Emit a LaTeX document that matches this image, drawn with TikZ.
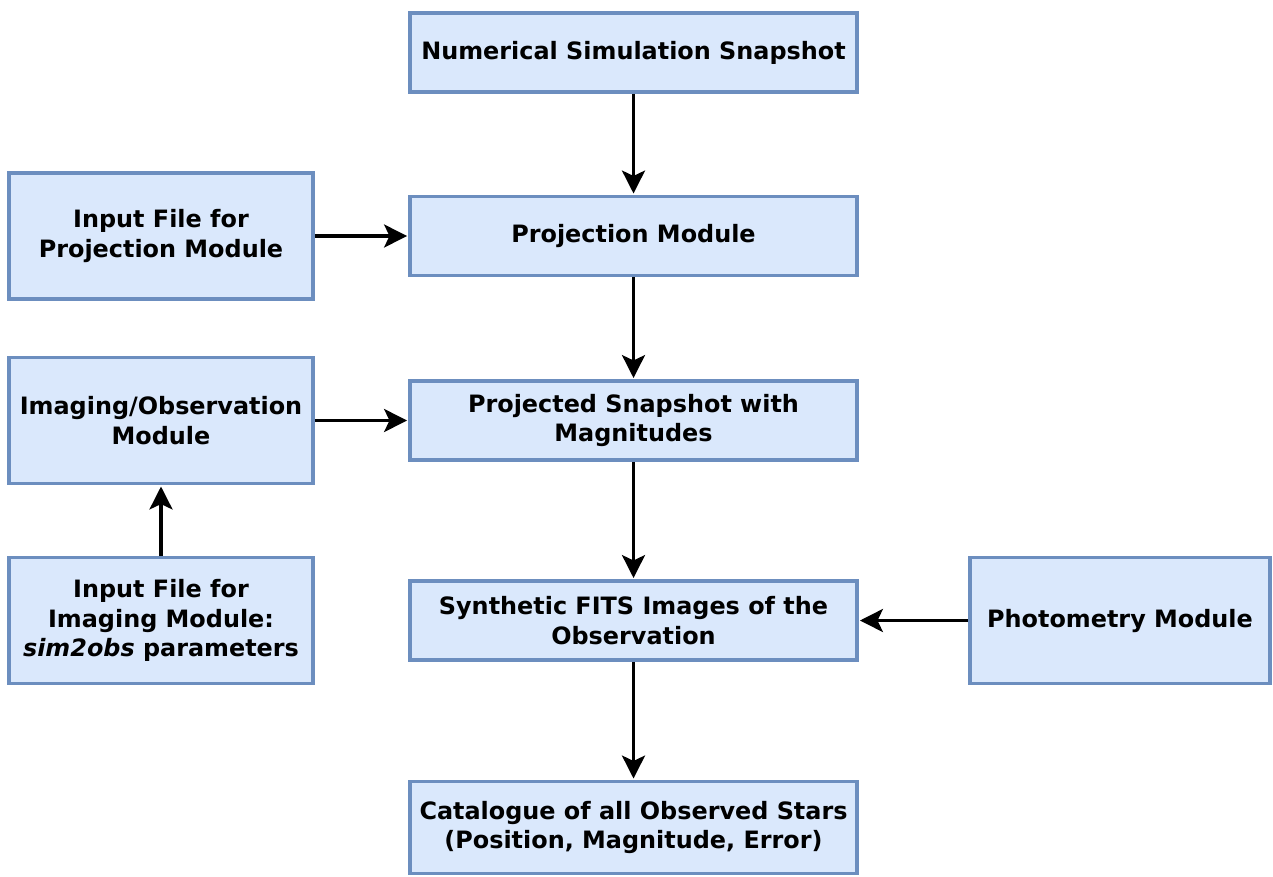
\documentclass[tikz,border=0pt]{standalone}
\usepackage{fontspec}
\setmainfont{DejaVu Sans}
\usetikzlibrary{arrows.meta}
\usetikzlibrary{positioning}
\definecolor{BoxFill}{HTML}{DAE8FC}
\definecolor{BoxLine}{HTML}{6C8EBF}

\begin{document}
\begin{tikzpicture}[x=0.02cm,y=-0.02cm,
  box/.style={draw=BoxLine,fill=BoxFill,line width=2.2pt,align=center,
    font=\fontsize{13.6}{17}\selectfont\bfseries,inner sep=0pt},
  wide/.style={box,minimum width=8.94cm,minimum height=1.58cm},
  side/.style={box,minimum width=6.08cm,minimum height=2.52cm},
  flow/.style={line width=2.2pt,shorten >=0.6pt,
    -{Stealth[length=13pt,width=13pt,inset=3pt]}}]
  \useasboundingbox (0,0) rectangle (1273,876);

  \node[wide] (snap) at (633.5,52.5) {Numerical Simulation Snapshot};
  \node[wide] (proj) at (633.5,236) {Projection Module};
  \node[wide] (mags) at (633.5,420.5) {Projected Snapshot with\\Magnitudes};
  \node[wide] (fits) at (633.5,620.5) {Synthetic FITS Images of the\\Observation};
  \node[wide,minimum height=1.84cm] (cat) at (633.5,827.5) {Catalogue of all Observed Stars\\(Position, Magnitude, Error)};

  \node[side] (inproj) at (161,236) {Input File for\\Projection Module};
  \node[side] (imaging) at (161,420.5) {Imaging/Observation\\Module};
  \node[side] (inimg) at (161,620.5) {Input File for\\Imaging Module:\\\textit{sim2obs} parameters};
  \node[side,minimum width=6.0cm] (phot) at (1120,620.5) {Photometry Module};

  \draw[flow] (snap) -- (proj);
  \draw[flow] (inproj) -- (proj);
  \draw[flow] (proj) -- (mags);
  \draw[flow] (imaging) -- (mags);
  \draw[flow] (mags) -- (fits);
  \draw[flow] (inimg) -- (imaging);
  \draw[flow] (phot) -- (fits);
  \draw[flow] (fits) -- (cat);

\end{tikzpicture}
\end{document}
